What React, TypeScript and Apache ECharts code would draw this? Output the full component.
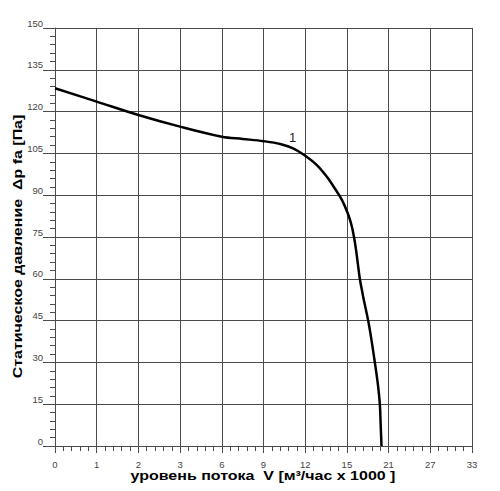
import React, { useEffect, useRef } from "react";
import * as echarts from "echarts";

// x-axis tick labels (non-linear scale: each grid step is one label)
const xTickLabels = ["0", "1", "2", "3", "6", "9", "12", "15", "21", "27", "33"];
const xTickValues = [0, 1, 2, 3, 6, 9, 12, 15, 21, 27, 33];

// curve 1: flow V [m³/h x 1000] and static pressure [Pa]
const flow = [0, 1, 2, 3, 6, 7.5, 9, 10.2, 11.13, 12.03, 12.84, 13.56, 14.13, 14.64, 15.12, 15.66, 16.02, 16.32, 16.86, 17.16, 17.34, 18.06, 18.54, 19.02, 19.44, 19.74, 19.86, 19.98];
const pressure = [128.4, 123.6, 118.8, 114.6, 111.0, 110.2, 109.4, 108.4, 106.8, 104.1, 100.8, 96.6, 92.4, 88.3, 83.5, 79.3, 75, 70.3, 60, 56, 53.6, 45, 38, 30, 22.5, 15, 7.5, 0];

const curveLabel = "1";
const curveLabelAt = [11.1, 110.8];

const xTitle = "уровень потока  V [м³/час x 1000 ]";
const yTitle = "Статическое давление  Δp fa [Па]";

// map a real flow value onto the chart's piecewise (label-step) scale
function flowToPos(v: number): number {
  for (let i = 0; i < xTickValues.length - 1; i++) {
    const a = xTickValues[i];
    const b = xTickValues[i + 1];
    if (v <= b) return i + (v - a) / (b - a);
  }
  return xTickValues.length - 1;
}

export default function App() {
  const ref = useRef<HTMLDivElement>(null);
  useEffect(() => {
    if (!ref.current) return;
    const chart = echarts.init(ref.current, undefined, { renderer: "svg" });
    const data = flow.map((f, i) => [flowToPos(f), pressure[i]]);
    const gridColor = "#4a4a4a";
    const labelColor = "#444";
    const titleFont = { fontFamily: "Liberation Sans", fontWeight: "bold", fontSize: 16, fill: "#000" };
    chart.setOption({
      animation: false,
      backgroundColor: "#fff",
      grid: { left: 55, right: 28, top: 28, bottom: 45, containLabel: false, outerBoundsMode: "none" },
      graphic: [
        {
          type: "text",
          x: 263,
          y: 475.5,
          scaleY: 0.78,
          style: { text: xTitle, ...titleFont, align: "center", verticalAlign: "middle" },
        },
        {
          type: "text",
          x: 18,
          y: 246.5,
          rotation: Math.PI / 2,
          scaleY: 0.78,
          style: { text: yTitle, ...titleFont, align: "center", verticalAlign: "middle" },
        },
      ],
      xAxis: {
        type: "value",
        min: 0,
        max: 10,
        interval: 1,
        axisLine: { show: true, lineStyle: { color: gridColor, width: 1 } },
        axisTick: { show: true, length: 7, lineStyle: { color: gridColor } },
        minorTick: { show: true, splitNumber: 5, length: 5, lineStyle: { color: gridColor } },
        axisLabel: {
          margin: 13,
          fontFamily: "Liberation Sans",
          fontSize: 9.5,
          color: labelColor,
          formatter: (v: number) => xTickLabels[Math.round(v)] ?? "",
        },
        splitLine: { show: true, lineStyle: { color: gridColor, width: 1 } },
      },
      yAxis: {
        type: "value",
        min: 0,
        max: 150,
        interval: 15,
        axisLine: { show: true, lineStyle: { color: gridColor, width: 1 } },
        axisTick: { show: true, length: 12, lineStyle: { color: gridColor } },
        minorTick: { show: true, splitNumber: 5, length: 5, lineStyle: { color: gridColor } },
        axisLabel: {
          margin: 12,
          fontFamily: "Liberation Sans",
          fontSize: 9.5,
          color: labelColor,
          verticalAlign: "bottom",
        },
        splitLine: { show: true, lineStyle: { color: gridColor, width: 1 } },
      },
      series: [
        {
          type: "line",
          data,
          smooth: 0.35,
          symbol: "none",
          lineStyle: { color: "#000", width: 2.5 },
          markPoint: {
            symbol: "circle",
            symbolSize: 0,
            label: { show: true, position: "inside", formatter: curveLabel, fontFamily: "Liberation Sans", fontSize: 13, color: "#222" },
            data: [{ coord: [flowToPos(curveLabelAt[0]), curveLabelAt[1]] }],
          },
        },
      ],
    });
    return () => chart.dispose();
  }, []);
  return <div ref={ref} style={{ position: "fixed", left: 0, top: 0, width: 500, height: 491 }} />;
}
